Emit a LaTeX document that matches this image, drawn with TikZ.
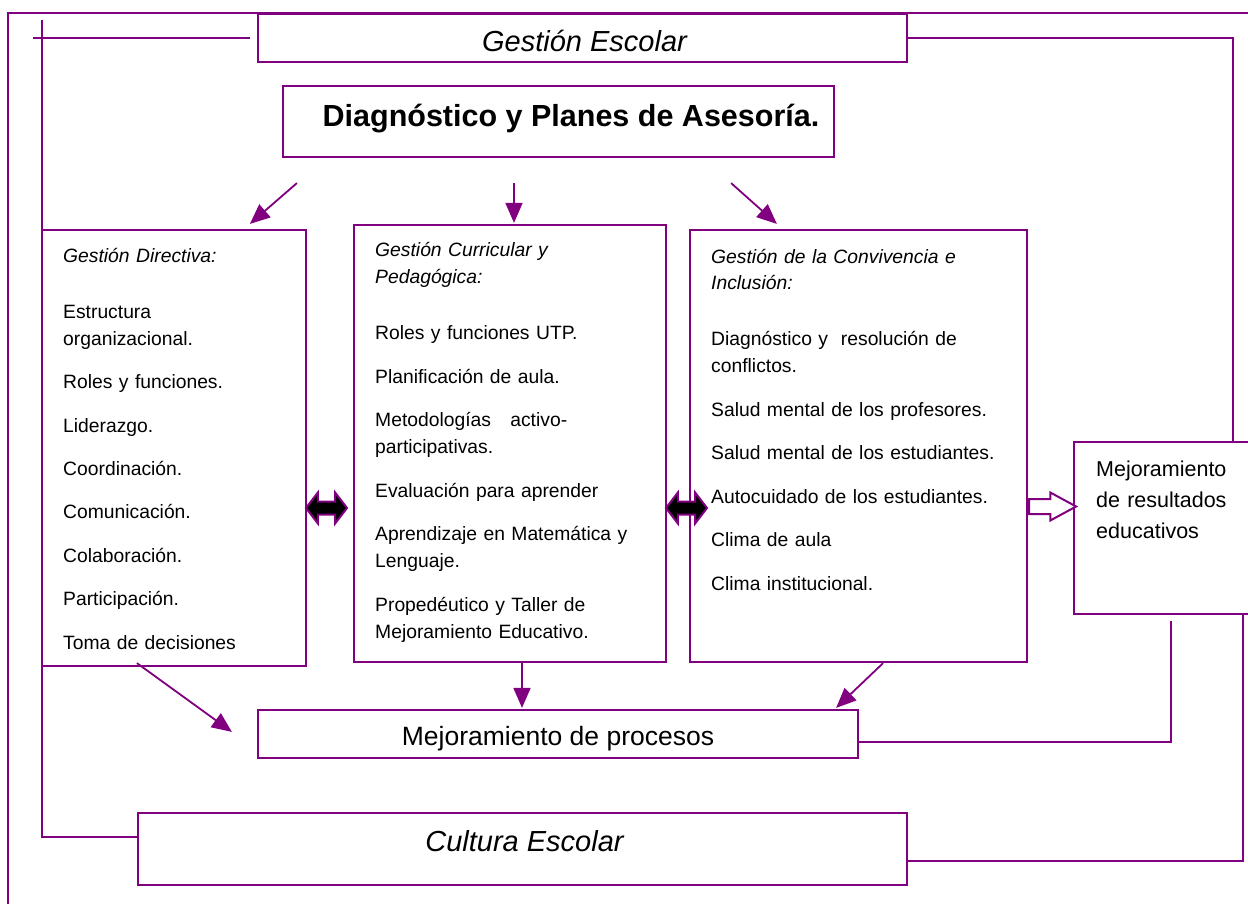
\documentclass[tikz,border=0pt]{standalone}
\usepackage{fontspec}
\setmainfont{Liberation Sans}
\usetikzlibrary{arrows.meta,positioning,shapes.arrows}
\definecolor{lila}{RGB}{128,0,128}

\begin{document}
\begin{tikzpicture}[
    x=1pt, y=-1pt,
    box/.style={rectangle, draw=lila, line width=2.2pt, inner sep=0pt},
    link/.style={draw=lila, line width=2.2pt},
    arrow/.style={-{Triangle[length=20pt,width=17pt]}, draw=lila, fill=lila, line width=1.8pt},
    list/.style={anchor=base west, inner sep=0pt, text width=#1, align=left, font=\fontsize{19.3}{27}\selectfont},
    dblarrow/.style={double arrow, draw=lila, fill=black, line width=2pt, minimum height=41pt, double arrow head extend=9pt, double arrow tip angle=105, inner xsep=0pt, inner ysep=5.5pt},
    hollow/.style={single arrow, draw=lila, fill=white, line width=2pt, minimum height=47pt, single arrow head extend=6.5pt, single arrow tip angle=57, inner xsep=0pt, inner ysep=6.5pt}
]
\useasboundingbox (0,0) rectangle (1248,904);

% Frame
\coordinate (framebl) at (8,910);
\coordinate (frametl) at (8,13);
\coordinate (frametr) at (1260,13);
\draw[link] (framebl) -- (frametl) -- (frametr);

% Top boxes
\node[box, minimum width=649pt, minimum height=48pt] (escolar) at (582.5,38) {};
\node[font=\fontsize{29}{34}\selectfont\itshape, anchor=base, inner sep=0pt] (escolartxt) at (584.5,52) {Gestión Escolar};
\node[box, minimum width=551pt, minimum height=71pt] (diag) at (558.5,121.5) {};
\node[font=\fontsize{30.5}{36}\selectfont\bfseries, anchor=base, inner sep=0pt] (diagtxt) at (571,127) {Diagnóstico y Planes de Asesoría.};

% Three areas
\node[box, minimum width=264pt, minimum height=436pt] (directiva) at (174,448) {};
\node[list=235pt] (directivatxt) at (63,262) {{\itshape Gestión Directiva:}\\[29pt] Estructura\\ organizacional.\\[16.5pt] Roles y funciones.\\[16.5pt] Liderazgo.\\[16.5pt] Coordinación.\\[16.5pt] Comunicación.\\[16.5pt] Colaboración.\\[16.5pt] Participación.\\[16.5pt] Toma de decisiones};

\node[box, minimum width=312pt, minimum height=437pt] (curricular) at (510,443.5) {};
\node[list=285pt] (curriculartxt) at (375,257) {{\itshape Gestión Curricular y\\ Pedagógica:}\\[29pt] Roles y funciones UTP.\\[16.5pt] Planificación de aula.\\[16.5pt] Metodologías\quad activo-\\ participativas.\\[16.5pt] Evaluación para aprender\\[16.5pt] Aprendizaje en Matemática y\\ Lenguaje.\\[16.5pt] Propedéutico y Taller de\\ Mejoramiento Educativo.};

\node[box, minimum width=337pt, minimum height=432pt] (convivencia) at (858.5,446) {};
\node[list=310pt] (convivenciatxt) at (711,263) {{\itshape Gestión de la Convivencia e\\ Inclusión:}\\[29pt] Diagnóstico y\ \ resolución de\\ conflictos.\\[16.5pt] Salud mental de los profesores.\\[16.5pt] Salud mental de los estudiantes.\\[16.5pt] Autocuidado de los estudiantes.\\[16.5pt] Clima de aula\\[16.5pt] Clima institucional.};

% Results
\node[box, minimum width=188pt, minimum height=172pt] (resultados) at (1168,528) {};
\node[anchor=base west, inner sep=0pt, text width=140pt, align=left, font=\fontsize{21.5}{31}\selectfont] (resultadostxt) at (1096,476) {Mejoramiento\\ de resultados\\ educativos};

% Bottom boxes
\node[box, minimum width=600pt, minimum height=48pt] (procesos) at (558,734) {};
\node[font=\fontsize{26.5}{32}\selectfont, anchor=base, inner sep=0pt] (procesostxt) at (558,745) {Mejoramiento de procesos};
\node[box, minimum width=769pt, minimum height=72pt] (cultura) at (522.5,849) {};
\node[font=\fontsize{29}{34}\selectfont\itshape, anchor=base, inner sep=0pt] (culturatxt) at (524.5,851.5) {Cultura Escolar};

% Links between areas
\node[dblarrow] (dir2cur) at (326.5,508) {};
\node[dblarrow] (cur2conv) at (686.5,508) {};
\node[hollow, anchor=tail] (conv2res) at (convivencia.east |- 0,506.5) {};

% Feedback lines
\coordinate (barl) at (33,38);
\coordinate (barr) at (250,38);
\draw[link] (barl) -- (barr);
\coordinate (spine) at (42,20);
\draw[link] (spine) |- ([yshift=12pt]cultura.west);
\draw[link] (escolar.east) -| ([xshift=160pt]resultados.north west);
\coordinate (resdrop) at (1171,621);
\draw[link] (resdrop) |- ([yshift=-8pt]procesos.east);
\coordinate (resedge) at (1243,614);
\draw[link] (resedge) |- ([yshift=-12pt]cultura.east);

% Arrows
\draw[arrow] ([xshift=15pt,yshift=-25pt]diag.south west) -- ([xshift=209pt,yshift=5pt]directiva.north west);
\draw[arrow] ([xshift=-44.5pt,yshift=-25pt]diag.south) -- ([xshift=4pt,yshift=1pt]curricular.north);
\draw[arrow] ([xshift=-104pt,yshift=-25pt]diag.south east) -- ([xshift=88pt,yshift=5pt]convivencia.north west);
\draw[arrow] ([xshift=96pt,yshift=4pt]directiva.south west) -- ([xshift=-25pt,yshift=-23pt]procesos.north west);
\draw[arrow] ([xshift=12pt]curricular.south) -- ([xshift=-36pt,yshift=1pt]procesos.north);
\draw[arrow] ([xshift=-145pt]convivencia.south east) -- ([xshift=-23pt,yshift=1pt]procesos.north east);
\end{tikzpicture}
\end{document}
